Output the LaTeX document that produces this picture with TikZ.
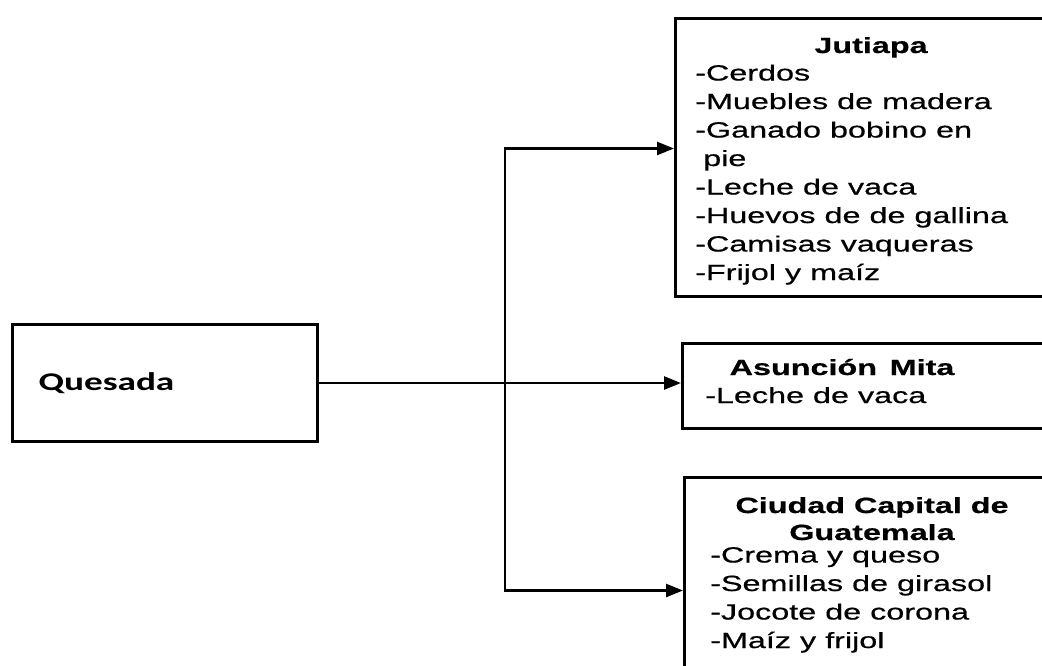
\documentclass[tikz,border=0pt]{standalone}
\usepackage{fontspec}
\usepackage{tikz}
\usetikzlibrary{arrows.meta,positioning,calc}
\newfontfamily\arialfont[FakeStretch=1.47,FakeBold=0.6]{Liberation Sans}
\newfontfamily\calfont[FakeStretch=1.46]{Carlito}
\newcommand{\listfont}{\arialfont\fontsize{22}{28.5}\selectfont}
\newcommand{\titfont}{\arialfont\bfseries\fontsize{22}{27}\selectfont}
\tikzset{
  caja/.style={draw, line width=3pt, inner sep=0pt, anchor=north west},
  titulo/.style={font=\titfont, inner sep=0pt, anchor=base},
  lista/.style={font=\listfont, align=left, inner sep=0pt, anchor=base west},
  flecha/.style={-{Triangle[length=17pt,width=13pt]}, line width=2.5pt},
}

\begin{document}
\begin{tikzpicture}[x=1pt, y=-1pt]
\useasboundingbox (0,0) rectangle (1042,665);
\clip (0,0) rectangle (1042,665);

% origin box
\node[caja, minimum width=305pt, minimum height=117pt, text width=253pt,
      inner xsep=26pt, align=left, font=\calfont\bfseries\fontsize{25.5}{30}\selectfont]
  (quesada) at (11,323) {Quesada};

% destination boxes
\node[caja, minimum width=400pt, minimum height=278pt] (jutiapa) at (674,17) {};
\node[caja, minimum width=400pt, minimum height=85pt] (asuncion) at (681,342) {};
\node[caja, minimum width=400pt, minimum height=260pt] (ciudad) at (683,476) {};

% texts (base = last line)
\node[titulo] (jutiapaTit) at (871,53) {Jutiapa};
\node[lista] (jutiapaLst) at (695,280) {-Cerdos\\-Muebles de madera\\-Ganado bobino en\\\hspace*{8pt}pie\\-Leche de vaca\\-Huevos de de gallina\\-Camisas vaqueras\\-Frijol y maíz};
\node[titulo] (asuncionTit) at (842,375) {Asunción\, Mita};
\node[lista] (asuncionLst) at (705,403) {-Leche de vaca};
\node[titulo, align=center] (ciudadTit) at (872,540) {Ciudad Capital de\\Guatemala};
\node[lista] (ciudadLst) at (710,648) {-Crema y queso\\-Semillas de girasol\\-Jocote de corona\\-Maíz y frijol};

% connectors
\coordinate (split) at (505,383);
\draw[flecha] (quesada.east) -- (quesada.east -| asuncion.west);
\draw[flecha] (split) |- ([yshift=9pt]jutiapa.west);
\draw[flecha] (split) |- ([yshift=17pt]ciudad.west);
\end{tikzpicture}
\end{document}
